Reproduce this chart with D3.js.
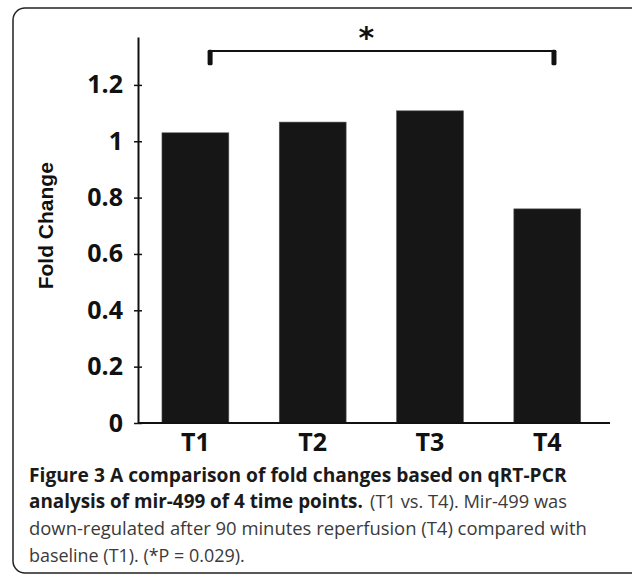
<!DOCTYPE html>
<html>
<head>
<meta charset="utf-8">
<script src="https://cdn.jsdelivr.net/npm/d3@7"></script>
<style>
  html, body { margin: 0; padding: 0; background: #fff; }
  svg { display: block; }
</style>
</head>
<body>
<div id="chart"></div>
<script>
// Data
const categories = ["T1", "T2", "T3", "T4"];
const foldChange = [1.03, 1.068, 1.108, 0.76];
const yTicks = [0, 0.2, 0.4, 0.6, 0.8, 1, 1.2];
const yTickLabels = ["0", "0.2", "0.4", "0.6", "0.8", "1", "1.2"];
const yLabel = "Fold Change";
const sigPair = ["T1", "T4"];
const sigMark = "*";
const captionBold1 = "Figure 3 A comparison of fold changes based on qRT-PCR";
const captionBold2 = "analysis of mir-499 of 4 time points.";
const captionRest2 = "(T1 vs. T4). Mir-499 was";
const captionLine3 = "down-regulated after 90 minutes reperfusion (T4) compared with";
const captionLine4 = "baseline (T1). (*P = 0.029).";

(function() {
  const width = 632;
  const height = 576;
  const axisX = 138;
  const axisRight = 610;
  const baseY = 423;
  const topY = 37;

  const svg = d3.select("#chart")
    .append("svg")
    .attr("width", width)
    .attr("height", height)
    .attr("viewBox", [0, 0, width, height]);

  // rounded frame round the figure (runs off the right edge)
  svg.append("rect")
    .attr("x", 13)
    .attr("y", 8)
    .attr("width", 640)
    .attr("height", 565)
    .attr("rx", 12)
    .attr("fill", "none")
    .attr("stroke", "#222")
    .attr("stroke-width", 1.5);

  // Scales
  const x = d3.scaleBand()
    .domain(categories)
    .range([axisX, axisRight])
    .paddingInner(0.43)
    .paddingOuter(0.227)
    .align(0.45);

  const y = d3.scaleLinear()
    .domain([0, 1.37])
    .range([baseY, topY]);

  // Bars
  svg.append("g")
    .selectAll("rect")
    .data(categories.map((c, i) => ({ cat: c, value: foldChange[i] })))
    .join("rect")
    .attr("x", d => x(d.cat))
    .attr("y", d => y(d.value))
    .attr("width", x.bandwidth())
    .attr("height", d => y(0) - y(d.value))
    .attr("fill", "#161616")
    .attr("stroke", "#555")
    .attr("stroke-width", 0.6);

  // Y axis
  svg.append("g")
    .attr("transform", `translate(${axisX},0)`)
    .call(d3.axisLeft(y)
      .tickValues(yTicks)
      .tickFormat((d, i) => yTickLabels[i])
      .tickSizeInner(4)
      .tickSizeOuter(0)
      .tickPadding(11))
    .call(g => g.select(".domain").attr("stroke", "#111").attr("stroke-width", 2))
    .call(g => g.selectAll(".tick line").attr("x1", 4).attr("stroke", "#111").attr("stroke-width", 1.5))
    .call(g => g.selectAll(".tick text")
      .attr("fill", "#111")
      .style("font-family", "'Open Sans', sans-serif")
      .style("font-weight", "700")
      .style("font-size", "25px"));

  // X axis
  svg.append("g")
    .attr("transform", `translate(0,${baseY})`)
    .call(d3.axisBottom(x).tickSize(0).tickPadding(10))
    .call(g => g.select(".domain").remove())
    .call(g => g.selectAll(".tick text")
      .attr("fill", "#111")
      .style("font-family", "'Open Sans', sans-serif")
      .style("font-weight", "700")
      .style("font-size", "25px"));

  svg.append("line")
    .attr("x1", axisX)
    .attr("x2", axisRight)
    .attr("y1", baseY)
    .attr("y2", baseY)
    .attr("stroke", "#111")
    .attr("stroke-width", 2);

  // Y axis title
  svg.append("text")
    .attr("transform", `translate(53,${(y(0.25) + y(1.15)) / 2}) rotate(-90)`)
    .attr("text-anchor", "middle")
    .attr("fill", "#111")
    .style("font-family", "'Liberation Sans', Arial, sans-serif")
    .style("font-weight", "700")
    .style("font-size", "21px")
    .text(yLabel);

  // Significance bracket T1 vs T4
  const bx1 = x(sigPair[0]) + x.bandwidth() * 0.72;
  const bx2 = x(sigPair[1]) + x.bandwidth() * 0.6;
  const bLine = y(1.32);
  const bTop = y(1.325);
  const bBottom = y(1.27);

  svg.append("line")
    .attr("x1", bx1)
    .attr("x2", bx2)
    .attr("y1", bLine)
    .attr("y2", bLine)
    .attr("stroke", "#111")
    .attr("stroke-width", 2);

  svg.append("g")
    .selectAll("rect")
    .data([bx1, bx2])
    .join("rect")
    .attr("x", d => d - 2.5)
    .attr("y", bTop)
    .attr("width", 5)
    .attr("height", bBottom - bTop)
    .attr("rx", 1.5)
    .attr("fill", "#111");

  // asterisk: ink sits about 0.55em above the baseline
  const starSize = 30;
  const starX = x("T2") + x.bandwidth() + (x.step() - x.bandwidth()) * 0.4;
  const starY = y(1.39);
  svg.append("text")
    .attr("x", starX)
    .attr("y", starY + starSize * 0.55)
    .attr("text-anchor", "middle")
    .attr("fill", "#111")
    .style("font-family", "'DejaVu Sans', sans-serif")
    .style("font-weight", "700")
    .style("font-size", starSize + "px")
    .text(sigMark);

  // Caption: pick each piece's font size so its natural width fits
  const cap = svg.append("g")
    .style("font-family", "'Open Sans', sans-serif");

  function capText(str, xPos, yPos, len, bold) {
    const t = cap.append("text")
      .attr("x", xPos)
      .attr("y", yPos)
      .attr("fill", bold ? "#1a1a1a" : "#3a3a3a")
      .style("font-weight", bold ? "700" : "400")
      .style("font-size", "17px")
      .text(str);
    const w = t.node().getComputedTextLength();
    t.style("font-size", (17 * len / w).toFixed(2) + "px");
  }

  capText(captionBold1, 29, 482, 538, true);
  capText(captionBold2, 29, 508, 334, true);
  capText(captionRest2, 370, 508, 197, false);
  capText(captionLine3, 29, 535, 558, false);
  capText(captionLine4, 29, 562, 216, false);
})();
</script>
</body>
</html>
